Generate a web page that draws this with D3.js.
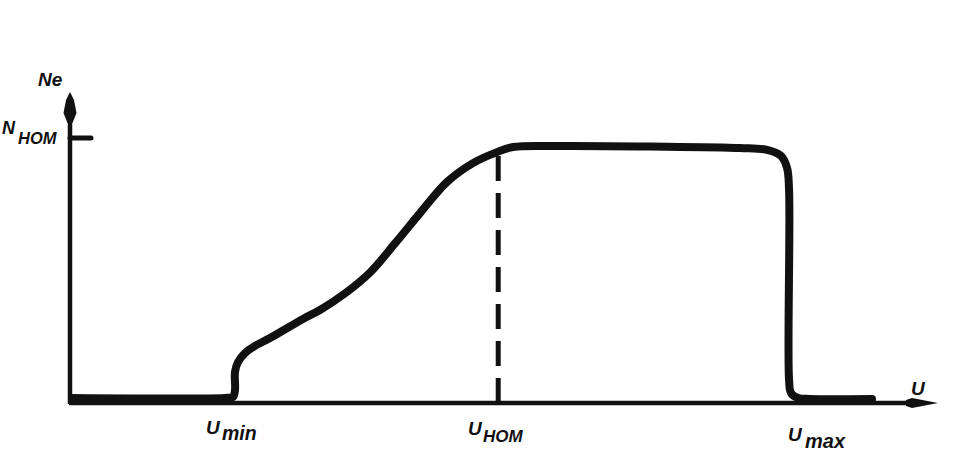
<!DOCTYPE html>
<html lang="ru">
<head>
    <meta charset="UTF-8">
    <title>Ne(U)</title>
    <script src="https://d3js.org/d3.v7.min.js"></script>
    <style type="text/css">
        body { margin: 0; background: white; }
        .lbl { font-family: "Liberation Sans", Arial, sans-serif; font-weight: bold; font-style: italic; fill: #111; }
    </style>
</head>
<body>
<script type="text/javascript">

    // curve Ne(U) (U in arbitrary units, Ne relative to N_HOM)
    const uValues  = [0.03, 2.143, 2.254, 2.281, 2.281, 2.323, 2.419, 2.558, 2.765, 3.221, 3.456, 3.802,
                      4.148, 4.493, 4.839, 5.212, 5.571, 5.903, 6.124, 6.774, 8.018, 9.263, 9.650,
                      9.830, 9.913, 9.941, 9.941, 9.968, 10.065, 10.230, 11.088];
    const neValues = [0.012, 0.012, 0.016, 0.043, 0.114, 0.153, 0.188, 0.216, 0.247, 0.322, 0.357, 0.422,
                      0.504, 0.618, 0.737, 0.859, 0.933, 0.976, 0.996, 1.0, 0.998, 0.992, 0.984,
                      0.961, 0.914, 0.827, 0.082, 0.031, 0.012, 0.008, 0.008];

    const uNom = 5.92;          // dashed line
    const neNomTick = 1.031;    // N_HOM tick on the axis
    const uAxisEnd = 12;        // x arrow tip
    const neAxisEnd = 1.212;    // y arrow tip
    const axisLevel = -0.008;

    const width = 972, height = 461;
    const svg = d3.select("body").append("svg")
        .attr("width", width)
        .attr("height", height);

    const x = d3.scaleLinear().domain([0, 12]).range([70, 938]);
    const y = d3.scaleLinear().domain([0, 1]).range([401, 146]);

    const ink = "#111";
    const x0 = x(0), yA = y(axisLevel);

    // axes
    svg.append("line")
        .attr("x1", x0).attr("y1", yA + 1)
        .attr("x2", x0).attr("y2", y(neAxisEnd) + 25)
        .attr("stroke", ink).attr("stroke-width", 4.5);
    svg.append("line")
        .attr("x1", x0 - 1).attr("y1", yA)
        .attr("x2", x(uAxisEnd) - 25).attr("y2", yA)
        .attr("stroke", ink).attr("stroke-width", 4.5);

    // arrow heads
    const ty = y(neAxisEnd);
    svg.append("path")
        .attr("d", `M${x0},${ty} L${x0 + 4},${ty + 8} L${x0 + 6.5},${ty + 21} L${x0 + 2.5},${ty + 31} L${x0 - 2.5},${ty + 31} L${x0 - 6.5},${ty + 21} L${x0 - 4},${ty + 8} Z`)
        .attr("fill", ink);
    const tx = x(uAxisEnd);
    svg.append("path")
        .attr("d", `M${tx},${yA} L${tx - 26},${yA - 5} L${tx - 32},${yA - 3} L${tx - 32},${yA + 3} L${tx - 26},${yA + 5} Z`)
        .attr("fill", ink);

    // N_HOM tick
    svg.append("line")
        .attr("x1", x0).attr("y1", y(neNomTick))
        .attr("x2", x0 + 21).attr("y2", y(neNomTick))
        .attr("stroke", ink).attr("stroke-width", 5).attr("stroke-linecap", "round");

    // U_HOM dashed line
    svg.append("line")
        .attr("x1", x(uNom)).attr("y1", yA)
        .attr("x2", x(uNom)).attr("y2", y(0.976))
        .attr("stroke", ink).attr("stroke-width", 5)
        .attr("stroke-dasharray", "25,12");

    // the curve
    const pts = uValues.map((u, i) => [u, neValues[i]]);
    const line = d3.line()
        .x(d => x(d[0]))
        .y(d => y(d[1]))
        .curve(d3.curveCatmullRom.alpha(0.5));
    svg.append("path")
        .datum(pts)
        .attr("d", line)
        .attr("fill", "none")
        .attr("stroke", ink)
        .attr("stroke-width", 8)
        .attr("stroke-linejoin", "round")
        .attr("stroke-linecap", "round");

    // labels
    function label(px, py, main, sub, size, subSize, subX, subDy) {
        svg.append("text").attr("class", "lbl")
            .attr("x", px).attr("y", py).style("font-size", size + "px").text(main);
        if (sub) {
            svg.append("text").attr("class", "lbl")
                .attr("x", subX).attr("y", py + subDy).style("font-size", subSize + "px").text(sub);
        }
    }
    label(38, 86, "Ne", null, 19);
    label(2, 134, "N", "HOM", 18, 16.5, 18, 10);
    label(206, 434, "U", "min", 19, 19.5, 222, 6);
    label(468, 435, "U", "HOM", 19, 17, 483, 7);
    label(788, 441, "U", "max", 19, 20, 805, 7);
    label(911, 395, "U", null, 19);

</script>
</body>
</html>
